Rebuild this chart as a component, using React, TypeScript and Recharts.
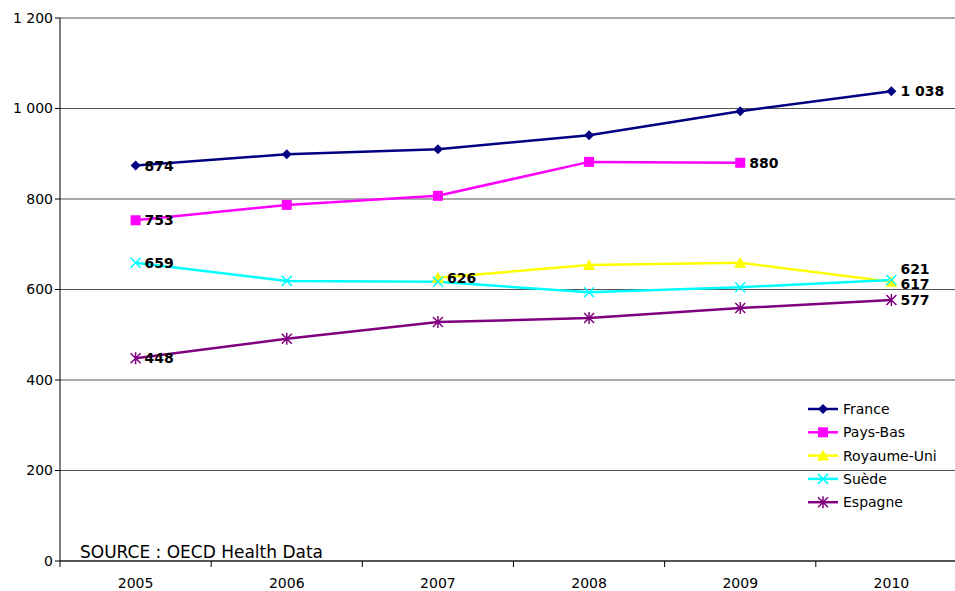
import { CartesianGrid, Line, LineChart, XAxis, YAxis } from "recharts";

const years = ["2005", "2006", "2007", "2008", "2009", "2010"];
const france = [874, 899, 910, 941, 994, 1038];
const paysBas = [753, 787, 807, 882, 880, null];
const royaumeUni = [null, null, 626, 654, 659, 617];
const suede = [659, 619, 617, 594, 605, 621];
const espagne = [448, 491, 528, 537, 559, 577];
const yTicks = [0, 200, 400, 600, 800, 1000, 1200];

const FONT = "DejaVu Sans, sans-serif";

const data = years.map((y, i) => ({
  year: y,
  france: france[i],
  paysBas: paysBas[i],
  royaumeUni: royaumeUni[i],
  suede: suede[i],
  espagne: espagne[i],
}));

type Shape = "diamond" | "square" | "triangle" | "x" | "star";

const drawMarker = (shape: Shape, cx: number, cy: number, color: string, key?: string) => {
  if (cx == null || cy == null || isNaN(cx) || isNaN(cy)) return <g key={key} />;
  if (shape === "diamond")
    return <path key={key} d={`M${cx},${cy - 5}L${cx + 5},${cy}L${cx},${cy + 5}L${cx - 5},${cy}Z`} fill={color} />;
  if (shape === "square") return <rect key={key} x={cx - 5} y={cy - 5} width={10} height={10} fill={color} />;
  if (shape === "triangle")
    return <path key={key} d={`M${cx},${cy - 6}L${cx + 6},${cy + 5}L${cx - 6},${cy + 5}Z`} fill={color} />;
  if (shape === "x")
    return (
      <path key={key} d={`M${cx - 5},${cy - 5}L${cx + 5},${cy + 5}M${cx - 5},${cy + 5}L${cx + 5},${cy - 5}`} stroke={color} strokeWidth={1.5} />
    );
  return (
    <path
      key={key}
      d={`M${cx - 5},${cy - 5}L${cx + 5},${cy + 5}M${cx - 5},${cy + 5}L${cx + 5},${cy - 5}M${cx},${cy - 6}L${cx},${cy + 6}`}
      stroke={color}
      strokeWidth={1.5}
    />
  );
};

const series = [
  { key: "france", name: "France", color: "#000080", shape: "diamond" as Shape, labels: { 0: 0, 5: 0 } as Record<number, number> },
  { key: "paysBas", name: "Pays-Bas", color: "#FF00FF", shape: "square" as Shape, labels: { 0: 0, 4: 0 } as Record<number, number> },
  { key: "royaumeUni", name: "Royaume-Uni", color: "#FFFF00", shape: "triangle" as Shape, labels: { 2: 0, 5: 2 } as Record<number, number> },
  { key: "suede", name: "Suède", color: "#00FFFF", shape: "x" as Shape, labels: { 0: 0, 5: -11 } as Record<number, number> },
  { key: "espagne", name: "Espagne", color: "#800080", shape: "star" as Shape, labels: { 0: 0, 5: 0 } as Record<number, number> },
];

const fmt = (v: number) => String(v).replace(/\B(?=(\d{3})+(?!\d))/g, " ");

const XTick = (props: any) => {
  const { x, y, payload } = props;
  return (
    <g>
      <line x1={x - 75.6} x2={x - 75.6} y1={y - 8} y2={y - 2} stroke="#000" />
      <text x={x} y={y + 19} textAnchor="middle" fontSize={14} fontFamily={FONT} fill="#000">
        {payload.value}
      </text>
    </g>
  );
};

export default function App() {
  return (
    <div style={{ position: "absolute", left: 0, top: 0, width: 955, height: 591, overflow: "hidden", background: "#fff" }}>
      <LineChart width={967} height={591} data={data} margin={{ top: 18, right: 0, bottom: 0, left: 0 }}>
        <CartesianGrid vertical={false} stroke="#555" strokeWidth={1} />
        <XAxis
          dataKey="year"
          height={30}
          stroke="#000"
          tickLine={false}
          tick={<XTick />}
          interval={0}
          padding={{ left: 75.6, right: 75.6 }}
        />
        <YAxis
          width={60}
          domain={[0, 1200]}
          ticks={yTicks}
          stroke="#000"
          tickSize={5}
          tickFormatter={fmt}
          tick={{ fontSize: 14, fontFamily: FONT, fill: "#000" }}
        />
        {series.map((s) => (
          <Line
            key={s.key}
            dataKey={s.key}
            name={s.name}
            stroke={s.color}
            strokeWidth={2.5}
            isAnimationActive={false}
            dot={(p: any) => drawMarker(s.shape, p.cx, p.cy, s.color, `${s.key}-${p.index}`)}
            activeDot={false}
            label={(p: any) => {
              const dy = s.labels[p.index];
              if (dy === undefined || p.value == null) return <g key={`${s.key}-l-${p.index}`} />;
              return (
                <text
                  key={`${s.key}-l-${p.index}`}
                  x={p.x + 9}
                  y={p.y + 5 + dy}
                  fontSize={14}
                  fontWeight="bold"
                  fontFamily={FONT}
                  fill="#000"
                >
                  {fmt(p.value)}
                </text>
              );
            }}
          />
        ))}
        <text x={80} y={558} fontSize={17} fontFamily={FONT} fill="#000">
          SOURCE : OECD Health Data
        </text>
        <g>
          {series.map((s, i) => {
            const y = 409 + i * 23.3;
            return (
              <g key={s.key}>
                <line x1={808} x2={838} y1={y} y2={y} stroke={s.color} strokeWidth={2.5} />
                {drawMarker(s.shape, 823, y, s.color)}
                <text x={843} y={y + 5} fontSize={14} fontFamily={FONT} fill="#000">
                  {s.name}
                </text>
              </g>
            );
          })}
        </g>
      </LineChart>
    </div>
  );
}
